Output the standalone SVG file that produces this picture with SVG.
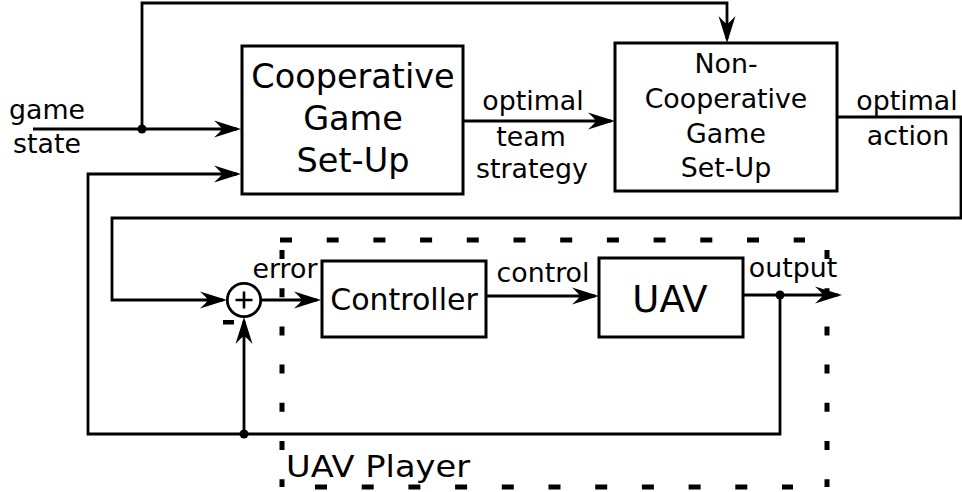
<svg xmlns="http://www.w3.org/2000/svg" width="962" height="492" viewBox="0 0 962 492">
<style>
  .box { fill: #fff; stroke: #000; stroke-width: 3; }
  .wire { fill: none; stroke: #000; stroke-width: 2.8; }
  .arr { marker-end: url(#ah); }
  .dash { fill: none; stroke: #000; stroke-width: 5; }
  text { font-family: "DejaVu Sans", "Liberation Sans", sans-serif; fill: #000; }
  .lbl { font-size: 26.8px; text-anchor: middle; }
  .big { font-size: 33.5px; text-anchor: middle; }
  .mid { font-size: 26.8px; text-anchor: middle; }
</style>
<defs>
  <marker id="ah" markerUnits="userSpaceOnUse" viewBox="-28 -10 30 20" refX="-4" refY="0" markerWidth="30" markerHeight="20" orient="auto" overflow="visible">
    <path d="M0,0 L-27,-8.5 Q-20,-2 -19,0 Q-20,2 -27,8.5 Z" fill="#000"/>
  </marker>
</defs>
<rect width="962" height="492" fill="#fff"/>

<g id="uav-player">
  <line class="dash" x1="280" y1="240" x2="805" y2="240" stroke-dasharray="12 34.7"/>
  <line class="dash" x1="315" y1="487" x2="793" y2="487" stroke-dasharray="12 34.7"/>
  <line class="dash" x1="282" y1="250" x2="282" y2="487" stroke-dasharray="9 29.2"/>
  <line class="dash" x1="827" y1="250" x2="827" y2="487" stroke-dasharray="9 29.2"/>
  <text x="286" y="477" style="font-size:31px" textLength="184" lengthAdjust="spacingAndGlyphs">UAV Player</text>
</g>

<g id="connectors">
  <path class="wire arr" d="M33,129 H237"/>
  <path class="wire arr" d="M142,129 V3 H727 V39"/>
  <path class="wire arr" d="M780,295 V434 H88 V174 H237"/>
  <path class="wire arr" d="M463,121 H611"/>
  <path class="wire arr" d="M837,117 H961 V218 H112 V300 H223"/>
  <path class="wire arr" d="M261,300 H317"/>
  <path class="wire arr" d="M486,296 H595"/>
  <path class="wire arr" d="M743,295 H838"/>
  <path class="wire arr" d="M244,434 V321"/>
  <circle cx="142" cy="129" r="4.5"/>
  <circle cx="780" cy="295" r="4.5"/>
  <circle cx="244" cy="434" r="4.5"/>
  <text class="lbl" x="47" y="119">game</text>
  <text class="lbl" x="47" y="153">state</text>
  <text class="lbl" x="533" y="110">optimal</text>
  <text class="lbl" x="531" y="146">team</text>
  <text class="lbl" x="532" y="178">strategy</text>
  <text class="lbl" x="907" y="110">optimal</text>
  <text class="lbl" x="908" y="145">action</text>
  <text class="lbl" x="285" y="278">error</text>
  <text class="lbl" x="543" y="282">control</text>
  <text class="lbl" x="793" y="277">output</text>
</g>

<g id="coop">
  <rect class="box" x="242" y="46" width="221" height="148"/>
  <text class="big" x="353" y="88">Cooperative</text>
  <text class="big" x="353" y="130">Game</text>
  <text class="big" x="353" y="172">Set-Up</text>
</g>

<g id="noncoop">
  <rect class="box" x="615" y="43" width="222" height="148"/>
  <text class="mid" x="726" y="73">Non-</text>
  <text class="mid" x="726" y="108">Cooperative</text>
  <text class="mid" x="726" y="143">Game</text>
  <text class="mid" x="726" y="177">Set-Up</text>
</g>

<g id="sum">
  <circle cx="244" cy="300" r="16.7" fill="#fff" stroke="#000" stroke-width="2.8"/>
  <path d="M235.5,300 H252.5 M244,291.5 V308.5" stroke="#000" stroke-width="2.6"/>
  <rect x="223" y="320" width="11" height="4.5" fill="#000"/>
</g>

<g id="controller">
  <rect class="box" x="322" y="261" width="164" height="76"/>
  <text x="404" y="310" style="font-size:30px;text-anchor:middle">Controller</text>
</g>

<g id="uav">
  <rect class="box" x="599" y="258" width="144" height="79"/>
  <text x="670" y="312" style="font-size:37px;text-anchor:middle">UAV</text>
</g>
</svg>
